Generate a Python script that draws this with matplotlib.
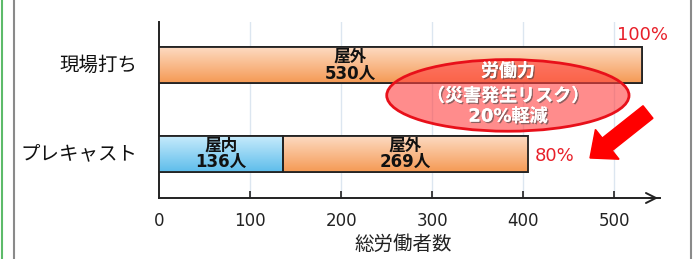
import numpy as np
import matplotlib
matplotlib.use("Agg")
import matplotlib.pyplot as plt
import matplotlib.patches as mpatches
from matplotlib.lines import Line2D
import matplotlib.patheffects as pe

FAM = ['DejaVu Sans', 'Noto Sans CJK JP']
plt.rcParams['font.family'] = FAM

# ---- data ----
categories = ["プレキャスト", "現場打ち"]
indoor = [136, 0]
outdoor = [269, 530]
percent_labels = ["80%", "100%"]
xticks = [0, 100, 200, 300, 400, 500]
xlabel = "総労働者数"
ellipse_lines = ["労働力", "（災害発生リスク）", "20%軽減"]

W, H = 693, 259
fig = plt.figure(figsize=(W / 100, H / 100), dpi=100)

def px(x0, y0, x1, y1):
    return [x0 / W, 1 - y1 / H, (x1 - x0) / W, (y1 - y0) / H]

ax = fig.add_axes(px(159, 22, 660, 198))

ypos = np.arange(len(categories))
bh = 0.41

bars_in = ax.barh(ypos, indoor, height=bh, color="#8ED3F5", edgecolor="#222222", linewidth=1.2, zorder=3)
bars_out = ax.barh(ypos, outdoor, left=indoor, height=bh, color="#F9B27E", edgecolor="#222222", linewidth=1.2, zorder=3)

def grad(patch, top, bot):
    x, y = patch.get_x(), patch.get_y()
    w, h = patch.get_width(), patch.get_height()
    if w <= 0:
        return
    c1 = np.array(matplotlib.colors.to_rgb(top))
    c2 = np.array(matplotlib.colors.to_rgb(bot))
    t = np.linspace(0, 1, 64)[:, None]
    img = (c1 * (1 - t) + c2 * t)[:, None, :]
    im = ax.imshow(img, extent=[x, x + w, y, y + h], origin="upper", aspect="auto", zorder=3.5)
    im.set_clip_path(patch)
    p2 = mpatches.Rectangle((x, y), w, h, fill=False, edgecolor="#222222", linewidth=1.3, zorder=4)
    ax.add_patch(p2)

for b in bars_in:
    grad(b, "#C9ECFC", "#5EBDEB")
for b in bars_out:
    grad(b, "#FDDCC4", "#F59A55")

ax.set_xlim(0, 550)
ax.set_ylim(-0.5, 1.49)

# labels in bars
lab_kw = dict(ha="center", va="center", fontsize=12, fontweight="bold", color="#111111", zorder=6, linespacing=0.9)
ax.text(68, 0, "屋内\n%d人" % indoor[0], **lab_kw)
ax.text(indoor[0] + outdoor[0] / 2, 0, "屋外\n%d人" % outdoor[0], **lab_kw)
ax.text(210, 1, "屋外\n%d人" % outdoor[1], **lab_kw)

# percent labels
ax.text(413, -0.02, percent_labels[0], color="#E8202A", fontsize=13, ha="left", va="center", zorder=6)
ax.text(503, 1.34, percent_labels[1], color="#E8202A", fontsize=13, ha="left", va="center", zorder=6, clip_on=False)

# grid
ax.set_xticks(xticks[1:])
ax.grid(axis="x", color="#DCE6F0", linewidth=1, zorder=0)
ax.set_axisbelow(True)
ax.set_xticklabels([])
ax.tick_params(axis="x", direction="in", length=5, width=1.2, color="#222222")
for v in xticks:
    ax.text(v, -0.76, str(v), ha="center", va="center", fontsize=12, color="#222222", clip_on=False)
ax.text(268, -1.03, xlabel, ha="center", va="center", fontsize=14, color="#222222", clip_on=False)

ax.set_yticks([])
for s in ["top", "right"]:
    ax.spines[s].set_visible(False)
ax.spines["left"].set_linewidth(1.4)
ax.spines["bottom"].set_linewidth(1.4)
ax.spines["left"].set_color("#222222")
ax.spines["bottom"].set_color("#222222")
# arrow head at axis end
ax.annotate("", xy=(551, -0.5), xytext=(535, -0.5),
            arrowprops=dict(arrowstyle="->", color="#222222", lw=1.4, mutation_scale=18),
            annotation_clip=False)

for i, c in enumerate(categories):
    ax.text(-24, ypos[i], c, ha="right", va="center", fontsize=14, color="#111111", clip_on=False)

# ellipse
ell = mpatches.Ellipse((383, 0.66), 266, 0.81, facecolor=(1.0, 0.25, 0.25, 0.6),
                       edgecolor="#E8101A", linewidth=2, zorder=7, clip_on=False)
ax.add_patch(ell)
shadow = [pe.withSimplePatchShadow(offset=(1, -1), shadow_rgbFace="#444444", alpha=0.6), pe.Normal()]
ys = [0.93, 0.65, 0.42]
for t, yy in zip(ellipse_lines, ys):
    ax.text(383, yy, t, ha="center", va="center", fontsize=13, color="white",
            fontweight="bold", zorder=8, path_effects=shadow)

# red arrow (in inches)
arr = mpatches.FancyArrow(6.48, (H - 112) / 100, -0.58, -0.46,
                          width=0.16, head_width=0.38, head_length=0.22,
                          length_includes_head=True, color="#FF0000",
                          transform=fig.dpi_scale_trans, zorder=10)
fig.add_artist(arr)

# frame lines
fig.add_artist(Line2D([1.5 / W, 1.5 / W], [0, 1], color="#5DBB6A", linewidth=1.5))
fig.add_artist(Line2D([14 / W, 14 / W], [0, 1], color="#8A8A8A", linewidth=1.5))
fig.add_artist(Line2D([691 / W, 691 / W], [0, 1], color="#8A8A8A", linewidth=1.5))

fig.savefig("out.png", dpi=100)
